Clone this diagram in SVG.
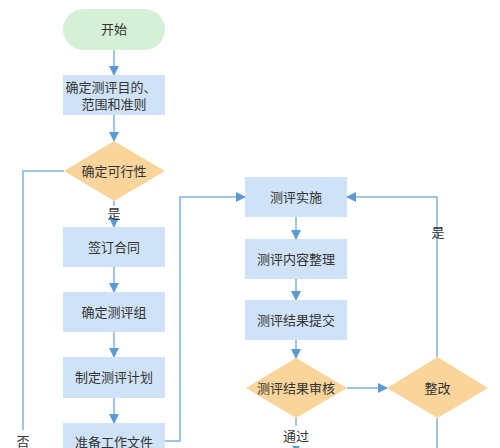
<svg xmlns="http://www.w3.org/2000/svg" width="500" height="448" viewBox="0 0 500 448">
<defs>
<style>
.t{font-family:"Liberation Sans","Noto Sans CJK SC",sans-serif;font-size:13px;fill:#333;text-anchor:middle;dominant-baseline:central}
.box{fill:#cfe2f7}
.dia{fill:#f9d49b}
.ln{fill:none;stroke:#7fb2de;stroke-width:1.5}
</style>
<marker id="ah" markerWidth="10" markerHeight="10" refX="9" refY="5" orient="auto" markerUnits="userSpaceOnUse">
<path d="M0,0 L10,5 L0,10 Z" fill="#5b9bd5"/>
</marker>
</defs>
<rect width="500" height="448" fill="#fff"/>
<g id="connectors">
<path class="ln" d="M114,50 V75" marker-end="url(#ah)"/>
<path class="ln" d="M114,115 V141" marker-end="url(#ah)"/>
<path class="ln" d="M114,201 V206 M114,221 V227" marker-end="url(#ah)"/>
<path class="ln" d="M114,267 V292" marker-end="url(#ah)"/>
<path class="ln" d="M114,332 V357" marker-end="url(#ah)"/>
<path class="ln" d="M114,398 V423" marker-end="url(#ah)"/>
<path class="ln" d="M64,171 H23 V430"/>
<path class="ln" d="M165,441 H180 V197 H245" marker-end="url(#ah)"/>
<path class="ln" d="M296,217 V239" marker-end="url(#ah)"/>
<path class="ln" d="M296,279 V300" marker-end="url(#ah)"/>
<path class="ln" d="M296,340 V358" marker-end="url(#ah)"/>
<path class="ln" d="M347,388 H387" marker-end="url(#ah)"/>
<path class="ln" d="M437,357 V197 H347" marker-end="url(#ah)"/>
<path class="ln" d="M437,418 V448"/>
<path class="ln" d="M296,418 V426"/>
<path d="M292,446 L300,446 L296,452 Z" fill="#5b9bd5"/>
<text class="t" x="114" y="213">是</text>
<text class="t" x="23" y="441">否</text>
<text class="t" x="438" y="232">是</text>
<text class="t" x="296" y="436">通过</text>
</g>
<g id="start"><rect x="63" y="9" width="102" height="41" rx="20.5" fill="#d5f0d6"/><text class="t" x="114" y="29.5">开始</text></g>
<g id="n1"><rect class="box" x="63" y="75" width="102" height="40"/><text class="t" x="111" y="87">确定测评目的、</text><text class="t" x="114" y="104">范围和准则</text></g>
<g id="d1"><polygon class="dia" points="114,141 165,171 114,201 64,171"/><text class="t" x="114" y="171">确定可行性</text></g>
<g id="n2"><rect class="box" x="63" y="227" width="102" height="40"/><text class="t" x="114" y="247">签订合同</text></g>
<g id="n3"><rect class="box" x="63" y="292" width="102" height="40"/><text class="t" x="114" y="312">确定测评组</text></g>
<g id="n4"><rect class="box" x="63" y="357" width="102" height="41"/><text class="t" x="114" y="377.5">制定测评计划</text></g>
<g id="n5"><rect class="box" x="63" y="423" width="102" height="40"/><text class="t" x="114" y="442">准备工作文件</text></g>
<g id="r1"><rect class="box" x="245" y="177" width="102" height="40"/><text class="t" x="296" y="197">测评实施</text></g>
<g id="r2"><rect class="box" x="245" y="239" width="102" height="40"/><text class="t" x="296" y="259">测评内容整理</text></g>
<g id="r3"><rect class="box" x="245" y="300" width="102" height="40"/><text class="t" x="296" y="320">测评结果提交</text></g>
<g id="d2"><polygon class="dia" points="296,358 347,388 296,418 246,388"/><text class="t" x="296" y="388">测评结果审核</text></g>
<g id="d3"><polygon class="dia" points="437.5,357 488,388 437.5,418 387,388"/><text class="t" x="437.5" y="388">整改</text></g>
</svg>
